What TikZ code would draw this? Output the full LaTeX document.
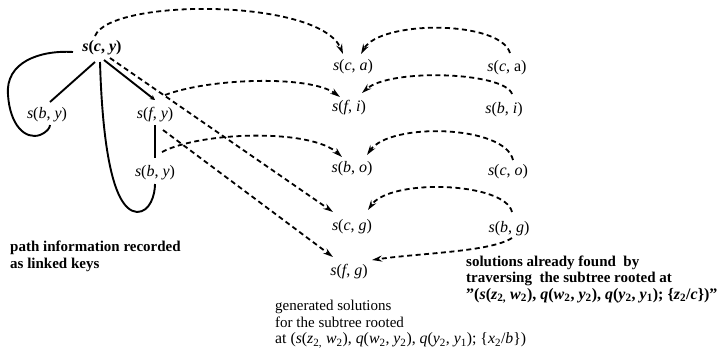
\documentclass[tikz,border=0pt]{standalone}
\usepackage{fontspec}
\setmainfont{Liberation Serif}
\usetikzlibrary{calc,arrows.meta}
\newcommand\lb[2]{\textit{s}(\textit{#1}, \textit{#2})}
\newcommand\dn[1]{\textsubscript{#1}}
\begin{document}
\begin{tikzpicture}[x=1pt,y=-1pt,
  lab/.style={inner sep=0pt,font=\fontsize{16}{18}\selectfont},
  txt/.style={inner sep=0pt,anchor=west,align=left,font=\fontsize{15}{16.6}\selectfont},
  solid link/.style={line width=1.9pt},
  dlink/.style={line width=1.8pt,dash pattern=on 5pt off 3.5pt,-{Stealth[length=10pt,width=6pt]}}]
\useasboundingbox (0,0) rectangle (724,354);
% left tree
\node[lab] (cy) at (102,48) {\textbf{\lb{c}{y}}};
\node[lab] (by1) at (47,115) {\lb{b}{y}};
\node[lab] (fy) at (155,115) {\lb{f}{y}};
\node[lab] (by2) at (155,173) {\lb{b}{y}};
% middle column
\node[lab] (ca) at (353,67) {\lb{c}{a}};
\node[lab] (fi) at (349,108) {\lb{f}{i}};
\node[lab] (bo) at (352,169) {\lb{b}{o}};
\node[lab] (cg) at (352,227) {\lb{c}{g}};
\node[lab] (fg) at (349,272) {\lb{f}{g}};
% right column
\node[lab] (caR) at (507,68) {\textit{s}(\textit{c}, a)};
\node[lab] (biR) at (504,110) {\lb{b}{i}};
\node[lab] (coR) at (508,172) {\lb{c}{o}};
\node[lab] (bgR) at (509,229) {\lb{b}{g}};
% texts
\node[txt] (t1) at (10,256.5) {\bfseries path information recorded\\\bfseries as linked keys};
\node[txt] (t2) at (275,324) {generated solutions\\for the subtree rooted\\{\fontsize{15.8}{16.6}\selectfont at (\textit{s}(\textit{z}\dn{2,} \textit{w}\dn{2}), \textit{q}(\textit{w}\dn{2}, \textit{y}\dn{2}), \textit{q}(\textit{y}\dn{2}, \textit{y}\dn{1}); \{\textit{x}\dn{2}/\textit{b}\})}};
\node[txt] (t3) at (466,279.5) {\bfseries solutions already found\ \ by\\\bfseries traversing\ \ the subtree rooted at\\{\fontsize{16}{16.6}\selectfont\bfseries "(\textit{s}(\textit{z}\dn{2,} \textit{w}\dn{2}), \textit{q}(\textit{w}\dn{2}, \textit{y}\dn{2}), \textit{q}(\textit{y}\dn{2}, \textit{y}\dn{1}); \{\textit{z}\dn{2}/\textit{c}\})"}};
% solid links
\draw[solid link] ($(cy)+(-7,14)$) -- ($(by1)+(3,-13)$);
\draw[solid link,-{Stealth[length=5pt,width=5pt]}] ($(cy)+(2,12)$) -- ($(fy)+(0,-15)$);
\draw[solid link] ($(fy)+(0,10)$) -- ($(by2)+(0,-15)$);
\draw[solid link] ($(cy)+(-29,4)$) .. controls (40,50) and (5,62) .. (8,95)
  .. controls (10,125) and (25,140) .. (40,135) .. controls (47,132) and (50,128) .. ($(by1)+(3,10)$);
\draw[solid link] ($(cy)+(-2,14)$) .. controls (102,130) and (110,210) .. (137,212)
  .. controls (150,212) and (155,195) .. ($(by2)+(0,11)$);
% dashed links from left
\draw[dlink] ($(cy)+(-7,-12)$) .. controls (110,-2) and (320,-2) .. ($(ca)+(-10,-13)$);
\draw[dlink] ($(fy)+(10,-20)$) .. controls (210,78) and (310,75) .. ($(fi)+(-9,-11)$);
\draw[dlink] ($(by2)+(7,-21)$) .. controls (200,132) and (310,128) .. ($(bo)+(-10,-12)$);
\draw[dlink] ($(cy)+(8,10)$) -- ($(cg)+(-19,-15)$);
\draw[dlink] ($(fy)+(8,15)$) -- ($(fg)+(-16,-15)$);
% dashed links from right
\draw[dlink] ($(caR)+(3,-15)$) .. controls (500,20) and (380,20) .. ($(ca)+(8,-13)$);
\draw[dlink] ($(biR)+(8,-16)$) .. controls (505,72) and (390,68) .. ($(fi)+(13,-15)$);
\draw[dlink] ($(coR)+(5,-12)$) .. controls (505,125) and (390,122) .. ($(bo)+(15,-14)$);
\draw[dlink] ($(bgR)+(3,-17)$) .. controls (505,182) and (390,178) .. ($(cg)+(16,-17)$);
\draw[dlink] ($(bgR)+(3,9)$) .. controls (490,252) and (420,253) .. ($(fg)+(23,-12)$);
\end{tikzpicture}
\end{document}
